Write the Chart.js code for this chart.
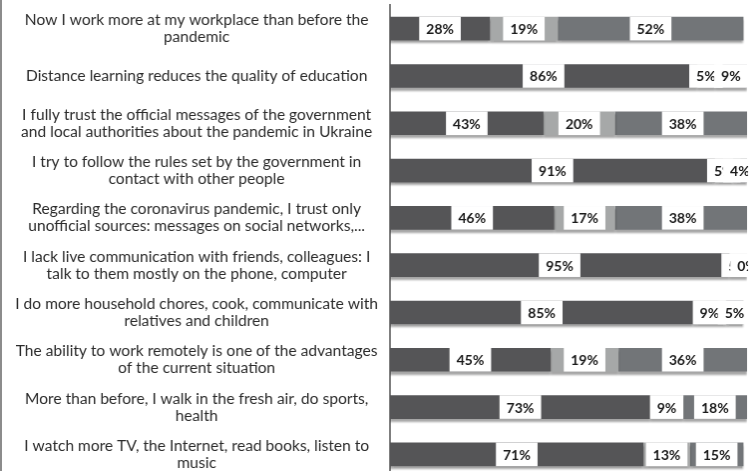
<!DOCTYPE html>
<html lang="en">
<head>
  <meta charset="UTF-8" />
  <title>Attitudes during the pandemic</title>
  <style>
    body {
      margin: 0;
      background: #fff;
      overflow: hidden;
    }
    #survey-chart {
      display: block;
      border-left: 2px solid #8c8c8c;
    }
  </style>
</head>
<body>
  <canvas id="survey-chart" width="754" height="480"></canvas>

  <script src="https://cdn.jsdelivr.net/npm/chart.js"></script>
  <script>
    // Statements, already split into the lines they are shown on.
    const statements = [
      ['Now I work more at my workplace than before the', 'pandemic'],
      ['Distance learning reduces the quality of education'],
      ['I fully trust the official messages of the government', 'and local authorities about the pandemic in Ukraine'],
      ['I try to follow the rules set by the government in', 'contact with other people'],
      ['Regarding the coronavirus pandemic, I trust only', 'unofficial sources: messages on social networks,...'],
      ['I lack live communication with friends, colleagues: I', 'talk to them mostly on the phone, computer'],
      ['I do more household chores, cook, communicate with', 'relatives and children'],
      ['The ability to work remotely is one of the advantages', 'of the current situation'],
      ['More than before, I walk in the fresh air, do sports,', 'health'],
      ['I watch more TV, the Internet, read books, listen to', 'music']
    ];

    // Share of answers (%) for each statement.
    const agree    = [28, 86, 43, 91, 46, 95, 85, 45, 73, 71];
    const disagree = [19, 5, 20, 5, 17, 5, 9, 19, 9, 13];
    const undecided = [52, 9, 38, 4, 38, 0, 5, 36, 18, 15];

    // Soft drop shadow under every bar.
    const barShadow = {
      id: 'barShadow',
      beforeDatasetsDraw(chart) {
        const ctx = chart.ctx;
        ctx.save();
        ctx.shadowColor = 'rgba(0, 0, 0, 0.35)';
        ctx.shadowOffsetY = 3;
        ctx.shadowBlur = 2;
      },
      afterDatasetsDraw(chart) {
        chart.ctx.restore();
      }
    };

    // Percent labels in white boxes at the middle of each segment.
    const valueLabels = {
      id: 'valueLabels',
      afterDatasetsDraw(chart) {
        const ctx = chart.ctx;
        const area = chart.chartArea;
        ctx.save();
        ctx.beginPath();
        ctx.rect(area.left, area.top, area.right - area.left + 1, area.bottom - area.top);
        ctx.clip();
        ctx.font = 'bold 14px Lato';
        ctx.textAlign = 'center';
        ctx.textBaseline = 'middle';
        chart.data.datasets.forEach((ds, i) => {
          chart.getDatasetMeta(i).data.forEach((bar, j) => {
            const text = ds.data[j] + '%';
            const cx = (bar.x + bar.base) / 2;
            const w = ctx.measureText(text).width + 14;
            const h = bar.height;
            ctx.fillStyle = '#ffffff';
            ctx.fillRect(cx - w / 2, bar.y - h / 2, w, h);
            ctx.fillStyle = '#1a1a1a';
            ctx.fillText(text, cx, bar.y + 1);
          });
        });
        ctx.restore();
      }
    };

    new Chart(document.getElementById('survey-chart'), {
      type: 'bar',
      data: {
        labels: statements,
        datasets: [
          { label: 'Agree', data: agree, backgroundColor: '#555557' },
          { label: 'Disagree', data: disagree, backgroundColor: '#a6a8a8' },
          { label: 'Hard to say', data: undecided, backgroundColor: '#727578' }
        ]
      },
      options: {
        indexAxis: 'y',
        responsive: false,
        animation: false,
        layout: { padding: { top: 5, bottom: 2, right: 7 } },
        datasets: {
          bar: { categoryPercentage: 1, barPercentage: 0.5 }
        },
        plugins: {
          legend: { display: false },
          tooltip: { enabled: false }
        },
        scales: {
          x: {
            stacked: true,
            min: 0,
            max: 100,
            display: false
          },
          y: {
            stacked: true,
            // fixed width, and let the first/last labels run past the plot edges
            afterFit: (scale) => {
              scale.width = 389;
              scale.paddingTop = 0;
              scale.paddingBottom = 0;
            },
            grid: { display: false, drawTicks: false },
            border: { display: true, color: '#7f7f7f', width: 2 },
            ticks: {
              crossAlign: 'center',
              padding: 12,
              color: '#2b2b2b',
              font: { family: 'Lato', size: 15.6, lineHeight: 1.1 }
            }
          }
        }
      },
      plugins: [barShadow, valueLabels]
    });
  </script>
</body>
</html>
